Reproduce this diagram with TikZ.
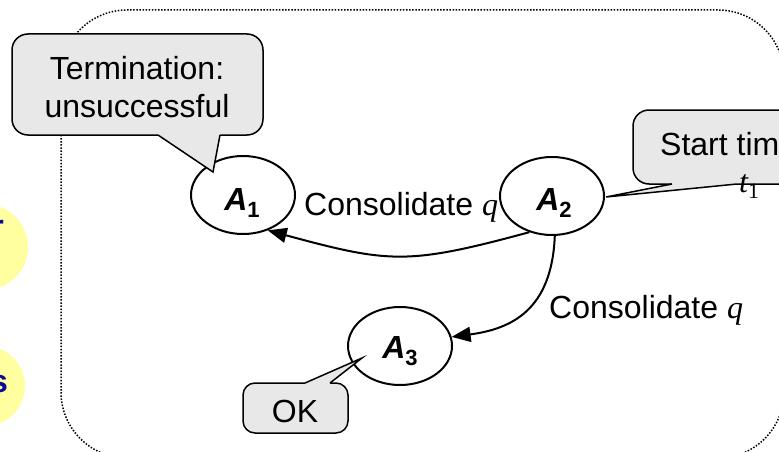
\documentclass[tikz,border=0pt]{standalone}
\usepackage{fontspec}
\setmainfont{Liberation Sans}
\newfontfamily\timesfam{Liberation Serif}
\usetikzlibrary{shapes.geometric,arrows.meta}

\definecolor{notegray}{RGB}{232,232,232}
\definecolor{paleyellow}{RGB}{255,255,160}
\definecolor{deepblue}{RGB}{10,10,150}

\begin{document}
\begin{tikzpicture}[x=1pt,y=-1pt,
  state/.style={ellipse,draw,line width=2pt,minimum width=104pt,minimum height=78pt,inner sep=0pt},
  note/.style={fill=notegray,draw,line width=1.5pt},
  tip/.style={fill=notegray,draw=none},
  txt/.style={inner sep=0pt,font=\fontsize{32}{37}\selectfont},
  statelbl/.style={inner sep=0pt,anchor=base,font=\fontsize{32}{37}\selectfont\bfseries},
  flow/.style={line width=2pt,-{Triangle[length=19pt,width=15pt]}},
  frame/.style={line width=1.5pt,dash pattern=on 1.5pt off 1.6pt,rounded corners=66pt}]
\useasboundingbox (0,0) rectangle (779,452);
\clip (0,0) rectangle (779,452);

% side discs with their headings
\fill[paleyellow] (-15,247) circle (43pt);
\fill[paleyellow] (-15,386) circle (40pt);
\node[inner sep=0pt,anchor=base east,text=deepblue,font=\fontsize{32}{37}\selectfont\bfseries] (h1) at (4,237) {r};
\node[inner sep=0pt,anchor=base east,text=deepblue,font=\fontsize{32}{37}\selectfont\bfseries] (h2) at (8,392) {s};

% dotted frame
\draw[frame] (61,10) rectangle (784,458);

% states
\node[state] (A1) at (243,195) {};
\node[state] (A2) at (552,196) {};
\node[state] (A3) at (400,346) {};
\node[statelbl] (a1) at (242,210) {\itshape A\raisebox{-7pt}{\fontsize{22}{22}\selectfont\upshape 1}};
\node[statelbl] (a2) at (554,210) {\itshape A\raisebox{-7pt}{\fontsize{22}{22}\selectfont\upshape 2}};
\node[statelbl] (a3) at (400,358) {\itshape A\raisebox{-7pt}{\fontsize{22}{22}\selectfont\upshape 3}};

% transitions
\draw[flow] (A2.238) .. controls +(-122,33) and +(122,33) .. (A1.-55);
\draw[flow] (A2.-86) .. controls +(-3,74) and +(60,-8) .. (A3.10);
\node[txt,anchor=base west] (c1) at (304,215) {Consolidate {\timesfam\itshape q}};
\node[txt,anchor=base west] (c2) at (549,318) {Consolidate {\timesfam\itshape q}};

% callout: termination
\draw[note,rounded corners=16pt] (12,34) rectangle (263,135);
\fill[tip] (158,131) -- (158,135) -- (213,172) -- (220,135) -- (220,131) -- cycle;
\draw[line width=1.5pt,line join=miter] (158,135) -- (213,172) -- (220,135);
\node[txt,anchor=base] (t1) at (137,80) {Termination:};
\node[txt,anchor=base] (t2) at (137,117) {unsuccessful};

% callout: start time
\draw[note,rounded corners=16pt] (633,110) rectangle (820,184);
\fill[tip] (672,180) -- (672,184) -- (606,197) -- (737,184) -- (737,180) -- cycle;
\draw[line width=1.5pt,line join=miter] (672,184) -- (606,197) -- (737,184);
\node[txt,anchor=base west] (s1) at (660,155) {Start time};
\node[inner sep=0pt,anchor=base west] (s2) at (739,192)
  {\fontsize{32}{32}\timesfam\itshape t\raisebox{-6pt}{\fontsize{22}{22}\selectfont\upshape 1}};

% callout: ok
\draw[note,rounded corners=12pt] (243,383) rectangle (348,433);
\fill[tip] (305,387) -- (305,383) -- (362,358) -- (330,383) -- (330,387) -- cycle;
\draw[line width=1.5pt,line join=miter] (305,383) -- (362,358) -- (330,383);
\node[txt,anchor=base] (ok) at (295,422) {OK};
\end{tikzpicture}
\end{document}
